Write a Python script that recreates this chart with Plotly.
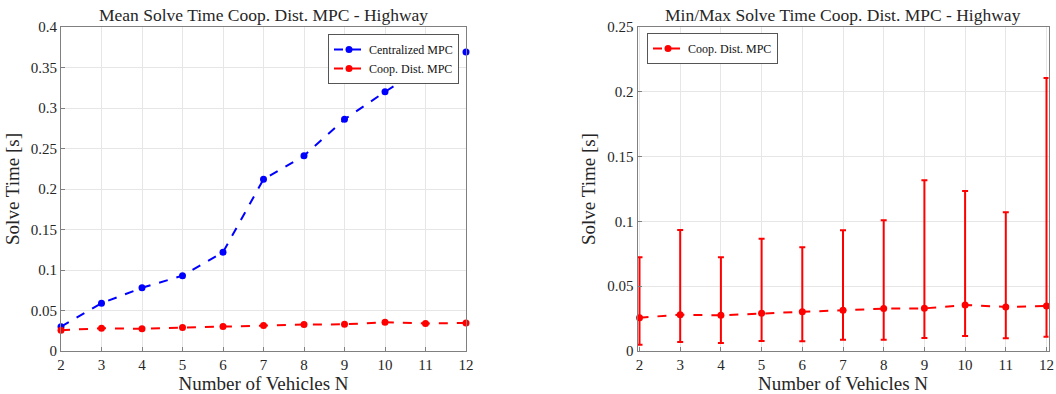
import plotly.graph_objects as go

# Number of vehicles in the platoon
vehicles = [2, 3, 4, 5, 6, 7, 8, 9, 10, 11, 12]

# Mean solve times [s]
centralized_mean = [0.030, 0.059, 0.078, 0.093, 0.122, 0.212, 0.241, 0.286, 0.320, 0.352, 0.369]
coop_dist_mean = [0.0257, 0.0280, 0.0275, 0.0291, 0.0303, 0.0314, 0.0327, 0.0329, 0.0355, 0.0340, 0.0347]

# Min / max solve times of the cooperative distributed MPC [s]
coop_dist_min = [0.0049, 0.0069, 0.0062, 0.0077, 0.0075, 0.0087, 0.0087, 0.0100, 0.0116, 0.0098, 0.0110]
coop_dist_max = [0.0723, 0.0934, 0.0723, 0.0867, 0.0800, 0.0931, 0.1008, 0.1317, 0.1235, 0.1070, 0.2106]

x_ticks = [2, 3, 4, 5, 6, 7, 8, 9, 10, 11, 12]

BLUE = "#0000ff"
RED = "#ff0000"
FONT = "Liberation Serif"
AXIS_COLOR = "#808080"
GRID_COLOR = "#e6e6e6"

err_plus = [mx - m for mx, m in zip(coop_dist_max, coop_dist_mean)]
err_minus = [m - mn for mn, m in zip(coop_dist_min, coop_dist_mean)]

fig = go.Figure()

fig.add_trace(go.Scatter(
    x=vehicles, y=centralized_mean, name="Centralized MPC", mode="lines+markers",
    line=dict(color=BLUE, width=2, dash="dash"), marker=dict(color=BLUE, size=7),
    cliponaxis=False, xaxis="x", yaxis="y", legend="legend",
))
fig.add_trace(go.Scatter(
    x=vehicles, y=coop_dist_mean, name="Coop. Dist. MPC", mode="lines+markers",
    line=dict(color=RED, width=2, dash="dash"), marker=dict(color=RED, size=7),
    cliponaxis=False, xaxis="x", yaxis="y", legend="legend",
))
fig.add_trace(go.Scatter(
    x=vehicles, y=coop_dist_mean, name="Coop. Dist. MPC", mode="lines+markers",
    line=dict(color=RED, width=2, dash="dash"), marker=dict(color=RED, size=7),
    error_y=dict(type="data", symmetric=False, array=err_plus, arrayminus=err_minus,
                 color=RED, thickness=2, width=3),
    cliponaxis=False, xaxis="x2", yaxis="y2", legend="legend2",
))

W, H = 1056, 394
left_dom = [61 / W, 466 / W]
# the right panel is padded by a couple of pixels so the end error bars are not cut
pad_px = 2.0
right_px = [639.5, 1046.5]
units_per_px = 10 / (right_px[1] - right_px[0])
right_dom = [(right_px[0] - pad_px) / W, (right_px[1] + pad_px) / W]
right_range = [2 - pad_px * units_per_px, 12 + pad_px * units_per_px]
y_dom = [1 - 351 / H, 1 - 27 / H]

axis_common = dict(
    automargin=False,
    showline=True, linecolor=AXIS_COLOR, linewidth=1, mirror=True,
    showgrid=True, gridcolor=GRID_COLOR, gridwidth=1,
    ticks="inside", ticklen=4, tickcolor=AXIS_COLOR,
    tickfont=dict(family=FONT, size=15, color="#262626"),
    zeroline=False,
)
axis_title_font = dict(family=FONT, size=19, color="#262626")
legend_font = dict(family=FONT, size=12, color="#111")

fig.update_layout(
    width=W, height=H,
    margin=dict(l=0, r=0, t=0, b=0),
    paper_bgcolor="white", plot_bgcolor="white",
    font=dict(family=FONT, color="#262626"),
    xaxis=dict(domain=left_dom, range=[2, 12], tickvals=x_ticks, anchor="y",
               title=dict(text="Number of Vehicles N", font=axis_title_font, standoff=2), **axis_common),
    yaxis=dict(domain=y_dom, range=[0, 0.4], dtick=0.05, anchor="x",
               title=dict(text="Solve Time [s]", font=axis_title_font, standoff=6), **axis_common),
    xaxis2=dict(domain=right_dom, range=right_range, tickvals=x_ticks, anchor="y2",
                title=dict(text="Number of Vehicles N", font=axis_title_font, standoff=2), **axis_common),
    yaxis2=dict(domain=y_dom, range=[0, 0.25], dtick=0.05, anchor="x2",
                title=dict(text="Solve Time [s]", font=axis_title_font, standoff=6), **axis_common),
    legend=dict(x=459 / W, y=1 - 34 / H, xanchor="right", yanchor="top",
                bgcolor="white", bordercolor="#555", borderwidth=1,
                font=legend_font, tracegroupgap=0, itemwidth=30),
    legend2=dict(x=647 / W, y=1 - 33 / H, xanchor="left", yanchor="top",
                 bgcolor="white", bordercolor="#555", borderwidth=1,
                 font=legend_font, itemwidth=30),
    showlegend=True,
    annotations=[
        dict(text="Mean Solve Time Coop. Dist. MPC - Highway", x=(left_dom[0] + left_dom[1]) / 2,
             y=1 - 15 / H, xref="paper", yref="paper", showarrow=False, xanchor="center",
             font=dict(family=FONT, size=17.5, color="#262626"), yanchor="middle"),
        dict(text="Min/Max Solve Time Coop. Dist. MPC - Highway", x=(right_px[0] + right_px[1]) / 2 / W,
             y=1 - 15 / H, xref="paper", yref="paper", showarrow=False, xanchor="center",
             font=dict(family=FONT, size=17.5, color="#262626"), yanchor="middle"),
    ],
)

fig.write_html("out.html")
